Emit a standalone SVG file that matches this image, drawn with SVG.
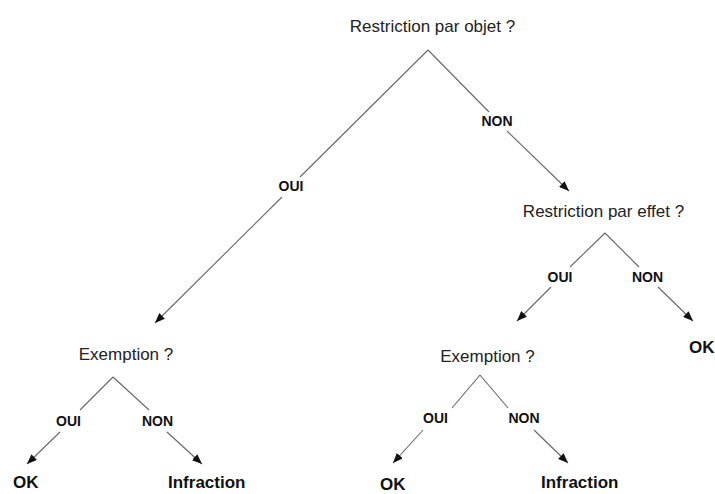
<svg xmlns="http://www.w3.org/2000/svg" width="715" height="494" viewBox="0 0 715 494">
<defs>
<marker id="ah" markerUnits="userSpaceOnUse" markerWidth="10" markerHeight="8" refX="10" refY="4" orient="auto"><path d="M0,0 L10,4 L0,8 z" fill="#111"/></marker>
<style>
.q{font-family:"Liberation Sans",Arial,sans-serif;font-size:17px;fill:#222;text-anchor:middle}
.l{font-family:"Liberation Sans",Arial,sans-serif;font-size:14px;font-weight:bold;fill:#111;text-anchor:middle}
.t{font-family:"Liberation Sans",Arial,sans-serif;font-size:17px;font-weight:bold;fill:#111}
.c line{stroke:#666;stroke-width:1.1;fill:none}
.c line.a{marker-end:url(#ah)}
</style>
</defs>
<rect width="715" height="494" fill="#fff"/>
<g class="c" id="connectors">
<line x1="428" y1="50" x2="300" y2="177"/>
<line class="a" x1="282" y1="197" x2="155" y2="323"/>
<line x1="428" y1="50" x2="489" y2="112"/>
<line class="a" x1="507" y1="131" x2="569" y2="191"/>
<line x1="605" y1="233" x2="570" y2="267"/>
<line class="a" x1="551" y1="287" x2="517" y2="321"/>
<line x1="605" y1="233" x2="639" y2="267"/>
<line class="a" x1="658" y1="287" x2="693" y2="321"/>
<line x1="113" y1="377" x2="80" y2="410"/>
<line class="a" x1="60" y1="432" x2="27" y2="464"/>
<line x1="113" y1="377" x2="149" y2="410"/>
<line class="a" x1="167" y1="432" x2="202" y2="464"/>
<line x1="480" y1="375" x2="452" y2="408"/>
<line class="a" x1="423" y1="430" x2="393" y2="463"/>
<line x1="480" y1="375" x2="508" y2="408"/>
<line class="a" x1="534" y1="430" x2="568" y2="463"/>
</g>
<g id="labels">
<text class="l" x="291" y="191">OUI</text>
<text class="l" x="497" y="126">NON</text>
<text class="l" x="560" y="282">OUI</text>
<text class="l" x="647.5" y="282">NON</text>
<text class="l" x="68.5" y="426">OUI</text>
<text class="l" x="157.5" y="426">NON</text>
<text class="l" x="435.5" y="423">OUI</text>
<text class="l" x="524" y="423">NON</text>
</g>
<g id="q-objet"><text class="q" x="432.5" y="32">Restriction par objet ?</text></g>
<g id="q-effet"><text class="q" x="603.5" y="217">Restriction par effet ?</text></g>
<g id="q-exemption-1"><text class="q" x="126" y="360">Exemption ?</text></g>
<g id="q-exemption-2"><text class="q" x="487.5" y="362">Exemption ?</text></g>
<g id="ok-effet"><text class="t" x="689" y="353">OK</text></g>
<g id="ok-1"><text class="t" x="13" y="488">OK</text></g>
<g id="infraction-1"><text class="t" x="168" y="488">Infraction</text></g>
<g id="ok-2"><text class="t" x="380" y="490">OK</text></g>
<g id="infraction-2"><text class="t" x="541" y="488">Infraction</text></g>
</svg>
